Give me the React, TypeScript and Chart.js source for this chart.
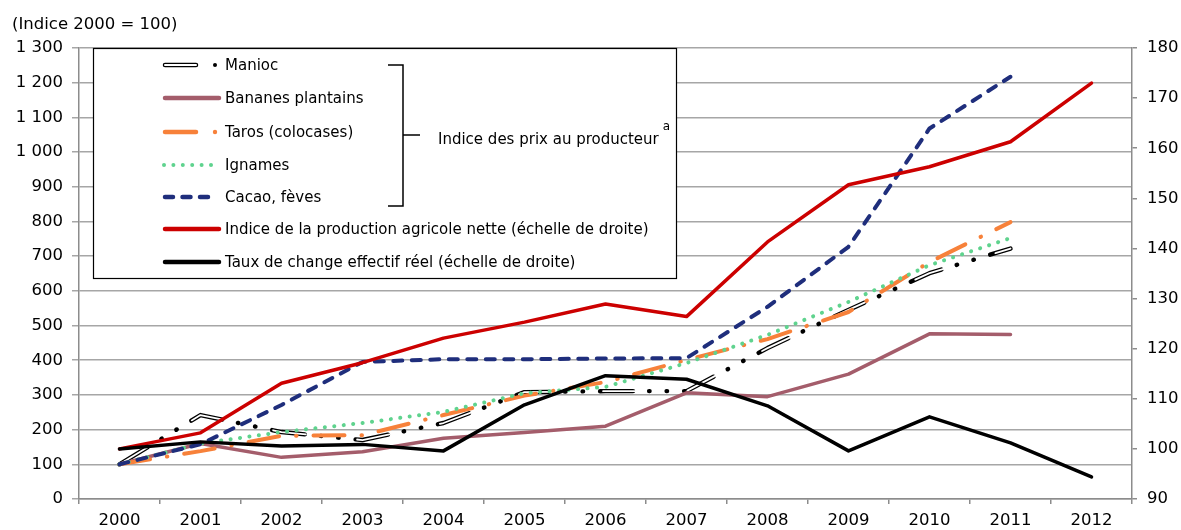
import React, { useEffect, useRef } from 'react';
import { Chart, registerables } from 'chart.js';

Chart.register(...registerables);

const years = ['2000', '2001', '2002', '2003', '2004', '2005', '2006', '2007', '2008', '2009', '2010', '2011', '2012'];

// Left axis (Indice 2000 = 100)
const manioc = [100, 242, 193, 170, 219, 308, 311, 311, 435, 545, 651, 722, null];
const bananes = [100, 160, 120, 136, 175, 192, 210, 306, 295, 360, 476, 474, null];
const taros = [100, 138, 182, 184, 242, 298, 337, 401, 461, 539, 683, 798, null];
const ignames = [100, 160, 193, 219, 251, 305, 323, 392, 473, 568, 674, 752, null];
const cacao = [100, 158, 271, 395, 403, 403, 405, 406, 554, 727, 1068, 1217, null];

// Right axis
const production = [100, 103.2, 113.1, 117.2, 122.1, 125.3, 128.9, 126.4, 141.3, 152.7, 156.3, 161.3, 173.0];
const tauxChange = [100, 101.4, 100.6, 100.9, 99.6, 108.8, 114.6, 113.9, 108.6, 99.6, 106.4, 101.2, 94.4];

const legendLabels = [
  'Manioc',
  'Bananes plantains',
  'Taros (colocases)',
  'Ignames',
  'Cacao, fèves',
  'Indice de la production agricole nette (échelle de droite)',
  'Taux de change effectif réel (échelle de droite)',
];
const groupLabel = 'Indice des prix au producteur';
const yTitle = '(Indice 2000 = 100)';

const C_BANANE = '#a45d6b';
const C_TARO = '#f7813a';
const C_IGNAME = '#5fd38e';
const C_CACAO = '#1f2e7c';
const C_RED = '#cc0000';
const C_BLACK = '#000000';

const FONT = '"DejaVu Sans", Verdana, sans-serif';
const MANIOC_DASH = [33, 16, 0.5, 17, 0.5, 17];
const MANIOC_WHITE_DASH = [33, 51.5];

const fmt = (v: number) => String(v).replace(/\B(?=(\d{3})+(?!\d))/g, ' ');

const overlayPlugin = {
  id: 'overlay',
  afterDraw(chart: any) {
    const ctx = chart.ctx as CanvasRenderingContext2D;
    ctx.save();
    // Title
    ctx.font = `16.5px ${FONT}`;
    ctx.fillStyle = '#000';
    ctx.textBaseline = 'middle';
    ctx.textAlign = 'left';
    ctx.fillText(yTitle, 12, 25);

    // Legend box
    const bx = 93, by = 48, bw = 583, bh = 230;
    ctx.fillStyle = '#fff';
    ctx.fillRect(bx, by, bw, bh);
    ctx.strokeStyle = '#000';
    ctx.lineWidth = 1.2;
    ctx.strokeRect(bx + 0.5, by + 0.5, bw, bh);

    const rows = [65, 98, 132, 165, 197, 229, 262];
    const x1 = 163, x2 = 219;
    const seg = (xa: number, xb: number, y: number, color: string, w: number, dash: number[] = [], cap: CanvasLineCap = 'round') => {
      ctx.beginPath();
      ctx.setLineDash(dash);
      ctx.lineCap = cap;
      ctx.strokeStyle = color;
      ctx.lineWidth = w;
      ctx.moveTo(xa, y);
      ctx.lineTo(xb, y);
      ctx.stroke();
      ctx.setLineDash([]);
    };
    const dot = (x: number, y: number, r: number, color: string) => {
      ctx.beginPath();
      ctx.fillStyle = color;
      ctx.arc(x, y, r, 0, Math.PI * 2);
      ctx.fill();
    };
    // Manioc
    seg(165, 196, rows[0], '#000', 4.5);
    seg(165, 196, rows[0], '#fff', 2);
    dot(215, rows[0], 2, '#000');
    // Bananes
    seg(x1 + 2, x2, rows[1], C_BANANE, 4.5);
    // Taros
    seg(165, 196, rows[2], C_TARO, 4.5);
    dot(215, rows[2], 2.2, C_TARO);
    // Ignames
    for (let i = 0; i < 6; i++) dot(164 + i * 9.4, rows[3], 2, C_IGNAME);
    // Cacao
    seg(165, 211, rows[4], C_CACAO, 4.5, [8, 9.5]);
    // Production
    seg(x1 + 2, x2, rows[5], C_RED, 4.5);
    // Taux
    seg(x1 + 2, x2, rows[6], C_BLACK, 4.5);

    ctx.font = `15px ${FONT}`;
    ctx.fillStyle = '#000';
    ctx.textBaseline = 'middle';
    legendLabels.forEach((t, i) => ctx.fillText(t, 225, rows[i] + 1));

    // Bracket
    ctx.beginPath();
    ctx.strokeStyle = '#000';
    ctx.lineWidth = 1.5;
    ctx.lineCap = 'butt';
    ctx.moveTo(388, 65);
    ctx.lineTo(403, 65);
    ctx.lineTo(403, 206);
    ctx.lineTo(388, 206);
    ctx.moveTo(403, 135);
    ctx.lineTo(420, 135);
    ctx.stroke();
    ctx.font = `15px ${FONT}`;
    ctx.fillText(groupLabel, 438, 140);
    const w = ctx.measureText(groupLabel).width;
    ctx.font = `12px ${FONT}`;
    ctx.fillText('a', 438 + w + 4, 127);
    ctx.restore();
  },
};

export default function App() {
  const ref = useRef<HTMLCanvasElement | null>(null);
  useEffect(() => {
    document.body.style.margin = '0';
    if (!ref.current) return;
    const line = (data: (number | null)[], color: string, width: number, order: number, axis: string, extra: any = {}) => ({
      data,
      borderColor: color,
      borderWidth: width,
      pointRadius: 0,
      fill: false,
      tension: 0,
      yAxisID: axis,
      order,
      borderJoinStyle: 'round',
      borderCapStyle: 'round',
      ...extra,
    });
    const chart = new Chart(ref.current, {
      type: 'line',
      data: {
        labels: years,
        datasets: [
          line(tauxChange, C_BLACK, 3.5, 0, 'y1', { label: legendLabels[6] }),
          line(production, C_RED, 3.5, 1, 'y1', { label: legendLabels[5] }),
          line(cacao, C_CACAO, 4, 2, 'y', { label: legendLabels[4], borderDash: [9, 9.5] }),
          line(ignames, C_IGNAME, 4, 3, 'y', { label: legendLabels[3], borderDash: [0.1, 9.4] }),
          line(taros, C_TARO, 4, 4, 'y', { label: legendLabels[2], borderDash: [31, 17, 0.5, 17] }),
          line(bananes, C_BANANE, 3.5, 5, 'y', { label: legendLabels[1] }),
          line(manioc, '#ffffff', 1.8, 6, 'y', { label: legendLabels[0] + ' (int.)', borderDash: MANIOC_WHITE_DASH }),
          line(manioc, '#000000', 4.4, 7, 'y', { label: legendLabels[0], borderDash: MANIOC_DASH }),
        ],
      },
      options: {
        animation: false,
        responsive: true,
        maintainAspectRatio: false,
        devicePixelRatio: 1,
        layout: { padding: { top: 48, left: 0, right: 0, bottom: 0 } },
        plugins: { legend: { display: false }, tooltip: { enabled: false }, title: { display: false } },
        scales: {
          x: {
            type: 'category',
            offset: true,
            grid: { offset: true, drawOnChartArea: false, drawTicks: true, tickLength: 5, color: '#8c8c8c', lineWidth: 1.5 },
            border: { display: true, color: '#8c8c8c', width: 1.5 },
            ticks: { font: { family: FONT, size: 16.5 }, color: '#000', padding: 7, maxRotation: 0, autoSkip: false },
            afterFit: (s: any) => { s.height = 31; },
          },
          y: {
            position: 'left',
            min: 0,
            max: 1300,
            grid: { color: '#a6a6a6', lineWidth: 1.5, tickLength: 7, drawTicks: true },
            border: { display: true, color: '#8c8c8c', width: 1.5 },
            ticks: { stepSize: 100, font: { family: FONT, size: 16.5 }, color: '#000', padding: 9, callback: (v: any) => fmt(Number(v)) },
            afterFit: (s: any) => { s.width = 79; },
          },
          y1: {
            position: 'right',
            min: 90,
            max: 180,
            grid: { drawOnChartArea: false, drawTicks: true, tickLength: 5, color: '#8c8c8c', lineWidth: 1.5 },
            border: { display: true, color: '#8c8c8c', width: 1.5 },
            ticks: { stepSize: 10, font: { family: FONT, size: 16.5 }, color: '#000', padding: 10 },
            afterFit: (s: any) => { s.width = 49; },
          },
        },
      },
      plugins: [overlayPlugin],
    });
    return () => chart.destroy();
  }, []);
  return (
    <div style={{ position: 'relative', width: 1181, height: 530 }}>
      <canvas ref={ref} />
    </div>
  );
}
